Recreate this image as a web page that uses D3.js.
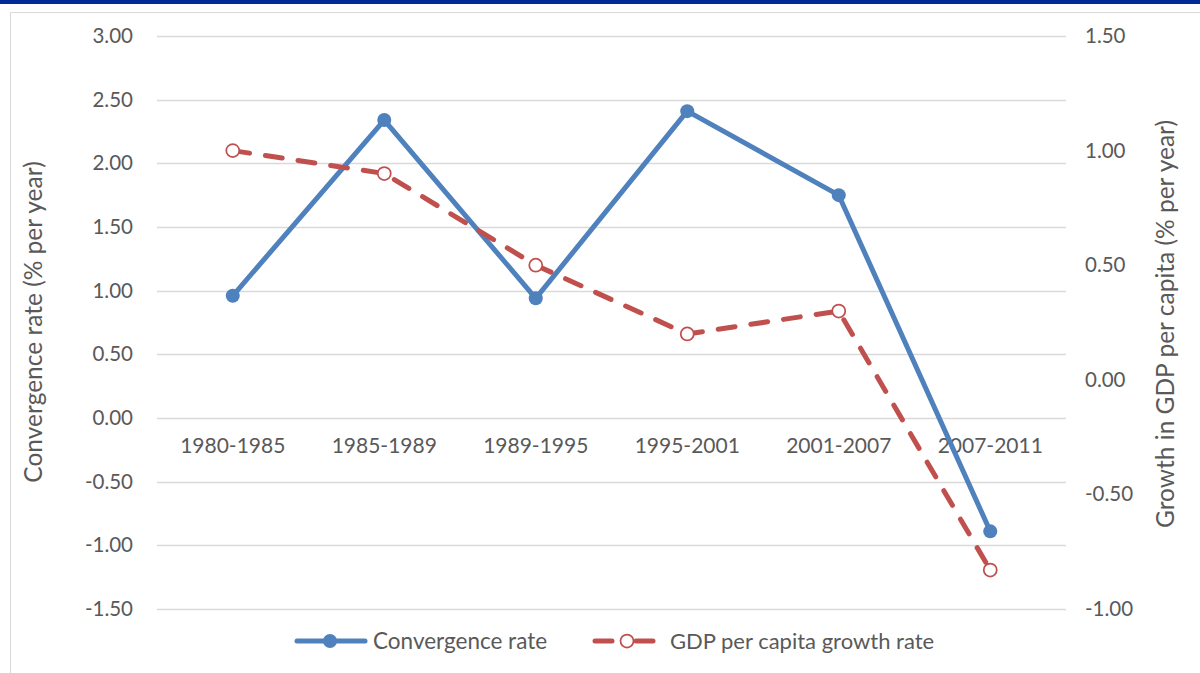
<!DOCTYPE html>
<html>
<head>
<meta charset="utf-8">
<script src="https://cdn.jsdelivr.net/npm/d3@7"></script>
<style>
  html, body { margin: 0; padding: 0; background: #fff; }
  svg { display: block; }
  text { font-family: Lato, "Open Sans", sans-serif; fill: #595959; }
</style>
</head>
<body>
<script>
const categories = ["1980-1985", "1985-1989", "1989-1995", "1995-2001", "2001-2007", "2007-2011"];
const convergenceRate = [0.96, 2.34, 0.94, 2.41, 1.75, -0.89];
const gdpGrowthRate = [1.00, 0.90, 0.50, 0.20, 0.30, -0.83];
const leftTicks = [3.0, 2.5, 2.0, 1.5, 1.0, 0.5, 0.0, -0.5, -1.0, -1.5];
const rightTicks = [1.5, 1.0, 0.5, 0.0, -0.5, -1.0];
const seriesNames = ["Convergence rate", "GDP per capita growth rate"];

const W = 1200, H = 673;
const blue = "#4F81BD", red = "#C0504D";
const svg = d3.select("body").append("svg").attr("width", W).attr("height", H);

// top banner and frame
svg.append("rect").attr("x", 0).attr("y", 0).attr("width", W).attr("height", 4).attr("fill", "#002B94");
svg.append("path").attr("d", `M10.5,${H} V12.5 H${W}`).attr("fill", "none").attr("stroke", "#D9D9D9").attr("stroke-width", 1);

const plotL = 157, plotR = 1066, plotT = 36, plotB = 609;
const x = d3.scaleBand().domain(categories).range([plotL, plotR]).padding(0);
const yL = d3.scaleLinear().domain([-1.5, 3]).range([plotB, plotT]);
const yR = d3.scaleLinear().domain([-1, 1.5]).range([plotB, plotT]);
const fmt = d => d3.format(".2f")(d).replace("\u2212", "-");

// gridlines
svg.append("g").selectAll("line").data(leftTicks).join("line")
  .attr("x1", plotL).attr("x2", plotR)
  .attr("y1", d => Math.round(yL(d)) + 0.5).attr("y2", d => Math.round(yL(d)) + 0.5)
  .attr("stroke", "#D9D9D9").attr("stroke-width", 1.5);

const fs = 20.5;
const gL = svg.append("g").attr("transform", `translate(${plotL},0)`)
  .call(d3.axisLeft(yL).tickValues(leftTicks).tickFormat(fmt).tickSize(0).tickPadding(24));
gL.select(".domain").remove();
gL.selectAll("text").style("font-family", "Lato").style("font-size", fs + "px").attr("fill", "#595959");

const gR = svg.append("g").attr("transform", `translate(${plotR},0)`)
  .call(d3.axisRight(yR).tickValues(rightTicks).tickFormat(fmt).tickSize(0).tickPadding(19));
gR.select(".domain").remove();
gR.selectAll("text").style("font-family", "Lato").style("font-size", fs + "px").attr("fill", "#595959");

const gX = svg.append("g").attr("transform", `translate(0,${yL(0)})`)
  .call(d3.axisBottom(x).tickSize(0).tickPadding(20));
gX.select(".domain").remove();
gX.selectAll("text").style("font-family", "Lato").style("font-size", "21px").attr("fill", "#595959");

// axis titles
const tfs = 24.5;
svg.append("text").attr("transform", `translate(33,${322}) rotate(-90)`)
  .attr("text-anchor", "middle").attr("dy", "0.35em").style("font-size", tfs + "px").text("Convergence rate (% per year)");
svg.append("text").attr("transform", `translate(1165,${324}) rotate(-90)`)
  .attr("text-anchor", "middle").attr("dy", "0.35em").style("font-size", tfs + "px").text("Growth in GDP per capita (% per year)");

const cx = d => x(d) + x.bandwidth() / 2;
const lw = 5;

const lineL = d3.line().x((d, i) => cx(categories[i])).y(d => yL(d));
svg.append("path").datum(convergenceRate).attr("d", lineL)
  .attr("fill", "none").attr("stroke", blue).attr("stroke-width", lw).attr("stroke-linejoin", "round").attr("stroke-linecap", "round");

const lineR = d3.line().x((d, i) => cx(categories[i])).y(d => yR(d));
svg.append("path").datum(gdpGrowthRate).attr("d", lineR)
  .attr("fill", "none").attr("stroke", red).attr("stroke-width", lw).attr("stroke-dasharray", "17,16").attr("stroke-linecap", "round").attr("stroke-linejoin", "round");

svg.append("g").selectAll("circle").data(convergenceRate).join("circle")
  .attr("cx", (d, i) => cx(categories[i])).attr("cy", d => yL(d)).attr("r", 7).attr("fill", blue);

svg.append("g").selectAll("circle").data(gdpGrowthRate).join("circle")
  .attr("cx", (d, i) => cx(categories[i])).attr("cy", d => yR(d)).attr("r", 6.5).attr("fill", "#fff").attr("stroke", red).attr("stroke-width", 1.75);

// legend
const ly = 641, lfs = 22;
const lg = svg.append("g");
lg.append("line").attr("x1", 297).attr("x2", 365).attr("y1", ly).attr("y2", ly).attr("stroke", blue).attr("stroke-width", lw).attr("stroke-linecap", "round");
lg.append("circle").attr("cx", 330).attr("cy", ly).attr("r", 7).attr("fill", blue);
lg.append("text").attr("x", 373).attr("y", ly).attr("dy", "0.35em").style("font-size", "22.5px").text(seriesNames[0]);
lg.append("line").attr("x1", 595).attr("x2", 612).attr("y1", ly).attr("y2", ly).attr("stroke", red).attr("stroke-width", lw).attr("stroke-linecap", "round");
lg.append("line").attr("x1", 636).attr("x2", 653).attr("y1", ly).attr("y2", ly).attr("stroke", red).attr("stroke-width", lw).attr("stroke-linecap", "round");
lg.append("circle").attr("cx", 627).attr("cy", ly).attr("r", 6.5).attr("fill", "#fff").attr("stroke", red).attr("stroke-width", 1.75);
lg.append("text").attr("x", 670).attr("y", ly).attr("dy", "0.35em").style("font-size", lfs + "px").text(seriesNames[1]);
</script>
</body>
</html>
